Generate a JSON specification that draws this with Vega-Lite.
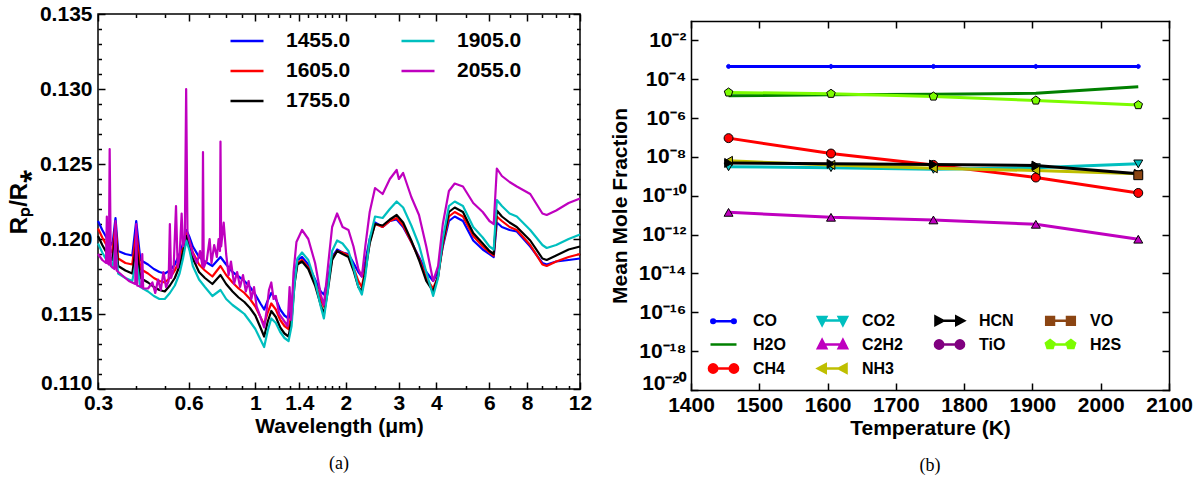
{
"$schema": "https://vega.github.io/schema/vega-lite/v6.json",
"background": "white",
"padding": {"left": 6, "top": 2, "right": 0, "bottom": 0},
"spacing": 16,
"resolve": {"scale": {"color": "independent"}, "legend": {"color": "independent"}},
"config": {
  "view": {"stroke": "black", "strokeWidth": 1.5},
  "font": "Liberation Sans",
  "axis": {"domain": false, "grid": false, "tickColor": "black", "tickWidth": 1.5, "tickSize": -7, "labelPadding": 13,
    "domainColor": "black", "domainWidth": 1.5, "domainCap": "square",
    "labelFont": "Liberation Sans", "labelFontWeight": "bold", "labelFontSize": 21, "labelColor": "black",
    "titleFont": "Liberation Sans", "titleFontWeight": "bold", "titleFontSize": 21, "titleColor": "black",
    "labelOverlap": false, "labelBound": false, "labelFlush": false},
  "legend": {"labelFont": "Liberation Sans", "labelFontWeight": "bold", "labelColor": "black", "padding": 0},
  "title": {"font": "Liberation Serif", "fontSize": 18, "fontWeight": "normal", "color": "black"}
},
"datasets": {
"spec": [
{"l":0.3,"s":"1455.0","v":0.1212},{"l":0.31,"s":"1455.0","v":0.1206},{"l":0.32,"s":"1455.0","v":0.1201},{"l":0.335,"s":"1455.0","v":0.1196},{"l":0.343,"s":"1455.0","v":0.1214},{"l":0.35,"s":"1455.0","v":0.1192},{"l":0.37,"s":"1455.0","v":0.119},{"l":0.39,"s":"1455.0","v":0.1189},{"l":0.402,"s":"1455.0","v":0.1212},{"l":0.415,"s":"1455.0","v":0.1186},{"l":0.44,"s":"1455.0","v":0.1183},{"l":0.46,"s":"1455.0","v":0.118},{"l":0.48,"s":"1455.0","v":0.1178},{"l":0.5,"s":"1455.0","v":0.1177},{"l":0.52,"s":"1455.0","v":0.1179},{"l":0.54,"s":"1455.0","v":0.1183},{"l":0.56,"s":"1455.0","v":0.119},{"l":0.575,"s":"1455.0","v":0.1197},{"l":0.59,"s":"1455.0","v":0.1206},{"l":0.605,"s":"1455.0","v":0.1201},{"l":0.62,"s":"1455.0","v":0.1195},{"l":0.65,"s":"1455.0","v":0.1188},{"l":0.68,"s":"1455.0","v":0.1185},{"l":0.72,"s":"1455.0","v":0.1182},{"l":0.766,"s":"1455.0","v":0.1188},{"l":0.8,"s":"1455.0","v":0.1183},{"l":0.84,"s":"1455.0","v":0.1178},{"l":0.88,"s":"1455.0","v":0.1175},{"l":0.92,"s":"1455.0","v":0.1172},{"l":0.96,"s":"1455.0","v":0.1168},{"l":1.0,"s":"1455.0","v":0.1163},{"l":1.04,"s":"1455.0","v":0.1157},{"l":1.07,"s":"1455.0","v":0.1153},{"l":1.1,"s":"1455.0","v":0.1159},{"l":1.13,"s":"1455.0","v":0.1164},{"l":1.17,"s":"1455.0","v":0.116},{"l":1.21,"s":"1455.0","v":0.1153},{"l":1.25,"s":"1455.0","v":0.1149},{"l":1.29,"s":"1455.0","v":0.1147},{"l":1.32,"s":"1455.0","v":0.1155},{"l":1.35,"s":"1455.0","v":0.1175},{"l":1.38,"s":"1455.0","v":0.1186},{"l":1.43,"s":"1455.0","v":0.1188},{"l":1.5,"s":"1455.0","v":0.1183},{"l":1.58,"s":"1455.0","v":0.1173},{"l":1.65,"s":"1455.0","v":0.1165},{"l":1.69,"s":"1455.0","v":0.1163},{"l":1.74,"s":"1455.0","v":0.1172},{"l":1.8,"s":"1455.0","v":0.1188},{"l":1.87,"s":"1455.0","v":0.1193},{"l":1.95,"s":"1455.0","v":0.1191},{"l":2.04,"s":"1455.0","v":0.119},{"l":2.12,"s":"1455.0","v":0.1184},{"l":2.2,"s":"1455.0","v":0.1178},{"l":2.26,"s":"1455.0","v":0.1175},{"l":2.32,"s":"1455.0","v":0.1185},{"l":2.4,"s":"1455.0","v":0.12},{"l":2.5,"s":"1455.0","v":0.1211},{"l":2.65,"s":"1455.0","v":0.1208},{"l":2.8,"s":"1455.0","v":0.1212},{"l":2.95,"s":"1455.0","v":0.1213},{"l":3.1,"s":"1455.0","v":0.1208},{"l":3.3,"s":"1455.0","v":0.1198},{"l":3.5,"s":"1455.0","v":0.1188},{"l":3.7,"s":"1455.0","v":0.1178},{"l":3.9,"s":"1455.0","v":0.1172},{"l":4.05,"s":"1455.0","v":0.1178},{"l":4.2,"s":"1455.0","v":0.1195},{"l":4.4,"s":"1455.0","v":0.1212},{"l":4.6,"s":"1455.0","v":0.1215},{"l":4.9,"s":"1455.0","v":0.1212},{"l":5.3,"s":"1455.0","v":0.1199},{"l":5.7,"s":"1455.0","v":0.1193},{"l":6.0,"s":"1455.0","v":0.119},{"l":6.2,"s":"1455.0","v":0.1188},{"l":6.35,"s":"1455.0","v":0.1211},{"l":6.6,"s":"1455.0","v":0.1208},{"l":7.0,"s":"1455.0","v":0.1206},{"l":7.4,"s":"1455.0","v":0.1205},{"l":8.2,"s":"1455.0","v":0.1195},{"l":9.0,"s":"1455.0","v":0.1184},{"l":9.3,"s":"1455.0","v":0.1183},{"l":10,"s":"1455.0","v":0.1185},{"l":11,"s":"1455.0","v":0.1186},{"l":12,"s":"1455.0","v":0.1187},
{"l":0.3,"s":"1605.0","v":0.1207},{"l":0.31,"s":"1605.0","v":0.1201},{"l":0.32,"s":"1605.0","v":0.1196},{"l":0.335,"s":"1605.0","v":0.1191},{"l":0.343,"s":"1605.0","v":0.121},{"l":0.35,"s":"1605.0","v":0.1187},{"l":0.37,"s":"1605.0","v":0.1184},{"l":0.39,"s":"1605.0","v":0.1183},{"l":0.402,"s":"1605.0","v":0.1205},{"l":0.415,"s":"1605.0","v":0.118},{"l":0.44,"s":"1605.0","v":0.1177},{"l":0.46,"s":"1605.0","v":0.1174},{"l":0.48,"s":"1605.0","v":0.1172},{"l":0.5,"s":"1605.0","v":0.1171},{"l":0.52,"s":"1605.0","v":0.1174},{"l":0.54,"s":"1605.0","v":0.1179},{"l":0.56,"s":"1605.0","v":0.1186},{"l":0.575,"s":"1605.0","v":0.1194},{"l":0.59,"s":"1605.0","v":0.1204},{"l":0.605,"s":"1605.0","v":0.1198},{"l":0.62,"s":"1605.0","v":0.1191},{"l":0.65,"s":"1605.0","v":0.1183},{"l":0.68,"s":"1605.0","v":0.1179},{"l":0.72,"s":"1605.0","v":0.1175},{"l":0.766,"s":"1605.0","v":0.1182},{"l":0.8,"s":"1605.0","v":0.1176},{"l":0.84,"s":"1605.0","v":0.1171},{"l":0.88,"s":"1605.0","v":0.1167},{"l":0.92,"s":"1605.0","v":0.1164},{"l":0.96,"s":"1605.0","v":0.116},{"l":1.0,"s":"1605.0","v":0.1155},{"l":1.04,"s":"1605.0","v":0.1148},{"l":1.07,"s":"1605.0","v":0.1143},{"l":1.1,"s":"1605.0","v":0.1151},{"l":1.13,"s":"1605.0","v":0.1157},{"l":1.17,"s":"1605.0","v":0.1153},{"l":1.21,"s":"1605.0","v":0.1146},{"l":1.25,"s":"1605.0","v":0.1142},{"l":1.29,"s":"1605.0","v":0.114},{"l":1.32,"s":"1605.0","v":0.115},{"l":1.35,"s":"1605.0","v":0.1172},{"l":1.38,"s":"1605.0","v":0.1184},{"l":1.43,"s":"1605.0","v":0.1186},{"l":1.5,"s":"1605.0","v":0.1181},{"l":1.58,"s":"1605.0","v":0.1171},{"l":1.65,"s":"1605.0","v":0.116},{"l":1.69,"s":"1605.0","v":0.1155},{"l":1.74,"s":"1605.0","v":0.1168},{"l":1.8,"s":"1605.0","v":0.1187},{"l":1.87,"s":"1605.0","v":0.1192},{"l":1.95,"s":"1605.0","v":0.1191},{"l":2.04,"s":"1605.0","v":0.1189},{"l":2.12,"s":"1605.0","v":0.1181},{"l":2.2,"s":"1605.0","v":0.1172},{"l":2.26,"s":"1605.0","v":0.1168},{"l":2.32,"s":"1605.0","v":0.118},{"l":2.4,"s":"1605.0","v":0.1198},{"l":2.5,"s":"1605.0","v":0.121},{"l":2.65,"s":"1605.0","v":0.1208},{"l":2.8,"s":"1605.0","v":0.1212},{"l":2.95,"s":"1605.0","v":0.1214},{"l":3.1,"s":"1605.0","v":0.1209},{"l":3.3,"s":"1605.0","v":0.1198},{"l":3.5,"s":"1605.0","v":0.1187},{"l":3.7,"s":"1605.0","v":0.1174},{"l":3.9,"s":"1605.0","v":0.1167},{"l":4.05,"s":"1605.0","v":0.1175},{"l":4.2,"s":"1605.0","v":0.1196},{"l":4.4,"s":"1605.0","v":0.1215},{"l":4.6,"s":"1605.0","v":0.1218},{"l":4.9,"s":"1605.0","v":0.1215},{"l":5.3,"s":"1605.0","v":0.1202},{"l":5.7,"s":"1605.0","v":0.1195},{"l":6.0,"s":"1605.0","v":0.1191},{"l":6.2,"s":"1605.0","v":0.1189},{"l":6.35,"s":"1605.0","v":0.1215},{"l":6.6,"s":"1605.0","v":0.1212},{"l":7.0,"s":"1605.0","v":0.1208},{"l":7.4,"s":"1605.0","v":0.1206},{"l":8.2,"s":"1605.0","v":0.1196},{"l":9.0,"s":"1605.0","v":0.1183},{"l":9.3,"s":"1605.0","v":0.1182},{"l":10,"s":"1605.0","v":0.1185},{"l":11,"s":"1605.0","v":0.1188},{"l":12,"s":"1605.0","v":0.119},
{"l":0.3,"s":"1755.0","v":0.1202},{"l":0.31,"s":"1755.0","v":0.1196},{"l":0.32,"s":"1755.0","v":0.1191},{"l":0.335,"s":"1755.0","v":0.1186},{"l":0.343,"s":"1755.0","v":0.1203},{"l":0.35,"s":"1755.0","v":0.1182},{"l":0.37,"s":"1755.0","v":0.1179},{"l":0.39,"s":"1755.0","v":0.1177},{"l":0.402,"s":"1755.0","v":0.1196},{"l":0.415,"s":"1755.0","v":0.1174},{"l":0.44,"s":"1755.0","v":0.1171},{"l":0.46,"s":"1755.0","v":0.1168},{"l":0.48,"s":"1755.0","v":0.1166},{"l":0.5,"s":"1755.0","v":0.1165},{"l":0.52,"s":"1755.0","v":0.1169},{"l":0.54,"s":"1755.0","v":0.1174},{"l":0.56,"s":"1755.0","v":0.1182},{"l":0.575,"s":"1755.0","v":0.1191},{"l":0.59,"s":"1755.0","v":0.1202},{"l":0.605,"s":"1755.0","v":0.1195},{"l":0.62,"s":"1755.0","v":0.1187},{"l":0.65,"s":"1755.0","v":0.1178},{"l":0.68,"s":"1755.0","v":0.1174},{"l":0.72,"s":"1755.0","v":0.117},{"l":0.766,"s":"1755.0","v":0.1176},{"l":0.8,"s":"1755.0","v":0.117},{"l":0.84,"s":"1755.0","v":0.1165},{"l":0.88,"s":"1755.0","v":0.1161},{"l":0.92,"s":"1755.0","v":0.1158},{"l":0.96,"s":"1755.0","v":0.1154},{"l":1.0,"s":"1755.0","v":0.1149},{"l":1.04,"s":"1755.0","v":0.1141},{"l":1.07,"s":"1755.0","v":0.1135},{"l":1.1,"s":"1755.0","v":0.1145},{"l":1.13,"s":"1755.0","v":0.1152},{"l":1.17,"s":"1755.0","v":0.1148},{"l":1.21,"s":"1755.0","v":0.1141},{"l":1.25,"s":"1755.0","v":0.1137},{"l":1.29,"s":"1755.0","v":0.1135},{"l":1.32,"s":"1755.0","v":0.1146},{"l":1.35,"s":"1755.0","v":0.117},{"l":1.38,"s":"1755.0","v":0.1183},{"l":1.43,"s":"1755.0","v":0.1185},{"l":1.5,"s":"1755.0","v":0.118},{"l":1.58,"s":"1755.0","v":0.1169},{"l":1.65,"s":"1755.0","v":0.1156},{"l":1.69,"s":"1755.0","v":0.115},{"l":1.74,"s":"1755.0","v":0.1165},{"l":1.8,"s":"1755.0","v":0.1186},{"l":1.87,"s":"1755.0","v":0.1192},{"l":1.95,"s":"1755.0","v":0.119},{"l":2.04,"s":"1755.0","v":0.1188},{"l":2.12,"s":"1755.0","v":0.1179},{"l":2.2,"s":"1755.0","v":0.1168},{"l":2.26,"s":"1755.0","v":0.1165},{"l":2.32,"s":"1755.0","v":0.1178},{"l":2.4,"s":"1755.0","v":0.1197},{"l":2.5,"s":"1755.0","v":0.121},{"l":2.65,"s":"1755.0","v":0.1209},{"l":2.8,"s":"1755.0","v":0.1213},{"l":2.95,"s":"1755.0","v":0.1216},{"l":3.1,"s":"1755.0","v":0.1211},{"l":3.3,"s":"1755.0","v":0.1199},{"l":3.5,"s":"1755.0","v":0.1186},{"l":3.7,"s":"1755.0","v":0.1172},{"l":3.9,"s":"1755.0","v":0.1165},{"l":4.05,"s":"1755.0","v":0.1175},{"l":4.2,"s":"1755.0","v":0.1198},{"l":4.4,"s":"1755.0","v":0.1218},{"l":4.6,"s":"1755.0","v":0.1221},{"l":4.9,"s":"1755.0","v":0.1218},{"l":5.3,"s":"1755.0","v":0.1204},{"l":5.7,"s":"1755.0","v":0.1197},{"l":6.0,"s":"1755.0","v":0.1192},{"l":6.2,"s":"1755.0","v":0.119},{"l":6.35,"s":"1755.0","v":0.1219},{"l":6.6,"s":"1755.0","v":0.1215},{"l":7.0,"s":"1755.0","v":0.1211},{"l":7.4,"s":"1755.0","v":0.1208},{"l":8.2,"s":"1755.0","v":0.1199},{"l":9.0,"s":"1755.0","v":0.1187},{"l":9.3,"s":"1755.0","v":0.1186},{"l":10,"s":"1755.0","v":0.1189},{"l":11,"s":"1755.0","v":0.1193},{"l":12,"s":"1755.0","v":0.1195},
{"l":0.3,"s":"1905.0","v":0.1197},{"l":0.31,"s":"1905.0","v":0.1191},{"l":0.32,"s":"1905.0","v":0.1186},{"l":0.335,"s":"1905.0","v":0.1181},{"l":0.343,"s":"1905.0","v":0.1195},{"l":0.35,"s":"1905.0","v":0.1177},{"l":0.37,"s":"1905.0","v":0.1174},{"l":0.39,"s":"1905.0","v":0.1172},{"l":0.402,"s":"1905.0","v":0.1186},{"l":0.415,"s":"1905.0","v":0.1168},{"l":0.44,"s":"1905.0","v":0.1165},{"l":0.46,"s":"1905.0","v":0.1162},{"l":0.48,"s":"1905.0","v":0.116},{"l":0.5,"s":"1905.0","v":0.116},{"l":0.52,"s":"1905.0","v":0.1164},{"l":0.54,"s":"1905.0","v":0.1169},{"l":0.56,"s":"1905.0","v":0.1177},{"l":0.575,"s":"1905.0","v":0.1187},{"l":0.59,"s":"1905.0","v":0.1199},{"l":0.605,"s":"1905.0","v":0.1192},{"l":0.62,"s":"1905.0","v":0.1182},{"l":0.65,"s":"1905.0","v":0.1173},{"l":0.68,"s":"1905.0","v":0.1168},{"l":0.72,"s":"1905.0","v":0.1162},{"l":0.766,"s":"1905.0","v":0.1166},{"l":0.8,"s":"1905.0","v":0.116},{"l":0.84,"s":"1905.0","v":0.1156},{"l":0.88,"s":"1905.0","v":0.1153},{"l":0.92,"s":"1905.0","v":0.115},{"l":0.96,"s":"1905.0","v":0.1145},{"l":1.0,"s":"1905.0","v":0.114},{"l":1.04,"s":"1905.0","v":0.1133},{"l":1.07,"s":"1905.0","v":0.1128},{"l":1.1,"s":"1905.0","v":0.1139},{"l":1.13,"s":"1905.0","v":0.1147},{"l":1.17,"s":"1905.0","v":0.1144},{"l":1.21,"s":"1905.0","v":0.1138},{"l":1.25,"s":"1905.0","v":0.1134},{"l":1.29,"s":"1905.0","v":0.1132},{"l":1.32,"s":"1905.0","v":0.1142},{"l":1.35,"s":"1905.0","v":0.117},{"l":1.38,"s":"1905.0","v":0.1187},{"l":1.43,"s":"1905.0","v":0.1191},{"l":1.5,"s":"1905.0","v":0.1186},{"l":1.58,"s":"1905.0","v":0.1172},{"l":1.65,"s":"1905.0","v":0.1155},{"l":1.69,"s":"1905.0","v":0.1147},{"l":1.74,"s":"1905.0","v":0.1165},{"l":1.8,"s":"1905.0","v":0.1192},{"l":1.87,"s":"1905.0","v":0.1199},{"l":1.95,"s":"1905.0","v":0.1197},{"l":2.04,"s":"1905.0","v":0.1192},{"l":2.12,"s":"1905.0","v":0.1181},{"l":2.2,"s":"1905.0","v":0.1168},{"l":2.26,"s":"1905.0","v":0.1163},{"l":2.32,"s":"1905.0","v":0.1175},{"l":2.4,"s":"1905.0","v":0.12},{"l":2.5,"s":"1905.0","v":0.1215},{"l":2.65,"s":"1905.0","v":0.1214},{"l":2.8,"s":"1905.0","v":0.122},{"l":2.95,"s":"1905.0","v":0.1225},{"l":3.1,"s":"1905.0","v":0.1221},{"l":3.3,"s":"1905.0","v":0.1209},{"l":3.5,"s":"1905.0","v":0.1196},{"l":3.7,"s":"1905.0","v":0.1178},{"l":3.9,"s":"1905.0","v":0.1162},{"l":4.05,"s":"1905.0","v":0.1174},{"l":4.2,"s":"1905.0","v":0.12},{"l":4.4,"s":"1905.0","v":0.1222},{"l":4.6,"s":"1905.0","v":0.1225},{"l":4.9,"s":"1905.0","v":0.1222},{"l":5.3,"s":"1905.0","v":0.1208},{"l":5.7,"s":"1905.0","v":0.1201},{"l":6.0,"s":"1905.0","v":0.1195},{"l":6.2,"s":"1905.0","v":0.1193},{"l":6.35,"s":"1905.0","v":0.1226},{"l":6.6,"s":"1905.0","v":0.1222},{"l":7.0,"s":"1905.0","v":0.1217},{"l":7.4,"s":"1905.0","v":0.1215},{"l":8.2,"s":"1905.0","v":0.1206},{"l":9.0,"s":"1905.0","v":0.1196},{"l":9.3,"s":"1905.0","v":0.1194},{"l":10,"s":"1905.0","v":0.1196},{"l":11,"s":"1905.0","v":0.12},{"l":12,"s":"1905.0","v":0.1203},
{"l":0.3,"s":"2055.0","v":0.119},{"l":0.31,"s":"2055.0","v":0.1186},{"l":0.319,"s":"2055.0","v":0.1184},{"l":0.321,"s":"2055.0","v":0.1215},{"l":0.323,"s":"2055.0","v":0.1184},{"l":0.326,"s":"2055.0","v":0.1183},{"l":0.328,"s":"2055.0","v":0.126},{"l":0.331,"s":"2055.0","v":0.1182},{"l":0.34,"s":"2055.0","v":0.118},{"l":0.343,"s":"2055.0","v":0.1212},{"l":0.346,"s":"2055.0","v":0.1179},{"l":0.36,"s":"2055.0","v":0.1176},{"l":0.38,"s":"2055.0","v":0.1172},{"l":0.399,"s":"2055.0","v":0.117},{"l":0.402,"s":"2055.0","v":0.121},{"l":0.405,"s":"2055.0","v":0.1169},{"l":0.418,"s":"2055.0","v":0.1168},{"l":0.421,"s":"2055.0","v":0.119},{"l":0.424,"s":"2055.0","v":0.1167},{"l":0.44,"s":"2055.0","v":0.1167},{"l":0.455,"s":"2055.0","v":0.1171},{"l":0.465,"s":"2055.0","v":0.1164},{"l":0.475,"s":"2055.0","v":0.1173},{"l":0.485,"s":"2055.0","v":0.1166},{"l":0.495,"s":"2055.0","v":0.1178},{"l":0.505,"s":"2055.0","v":0.1168},{"l":0.515,"s":"2055.0","v":0.1172},{"l":0.52,"s":"2055.0","v":0.121},{"l":0.525,"s":"2055.0","v":0.1174},{"l":0.535,"s":"2055.0","v":0.118},{"l":0.545,"s":"2055.0","v":0.1222},{"l":0.552,"s":"2055.0","v":0.1181},{"l":0.56,"s":"2055.0","v":0.1188},{"l":0.569,"s":"2055.0","v":0.1217},{"l":0.575,"s":"2055.0","v":0.1195},{"l":0.583,"s":"2055.0","v":0.12},{"l":0.589,"s":"2055.0","v":0.13},{"l":0.595,"s":"2055.0","v":0.1204},{"l":0.605,"s":"2055.0","v":0.1198},{"l":0.62,"s":"2055.0","v":0.119},{"l":0.64,"s":"2055.0","v":0.1184},{"l":0.655,"s":"2055.0","v":0.1192},{"l":0.667,"s":"2055.0","v":0.1182},{"l":0.67,"s":"2055.0","v":0.1258},{"l":0.674,"s":"2055.0","v":0.1181},{"l":0.69,"s":"2055.0","v":0.1186},{"l":0.705,"s":"2055.0","v":0.12},{"l":0.715,"s":"2055.0","v":0.1184},{"l":0.73,"s":"2055.0","v":0.1196},{"l":0.745,"s":"2055.0","v":0.1188},{"l":0.755,"s":"2055.0","v":0.12},{"l":0.763,"s":"2055.0","v":0.1192},{"l":0.766,"s":"2055.0","v":0.1265},{"l":0.77,"s":"2055.0","v":0.1195},{"l":0.785,"s":"2055.0","v":0.1211},{"l":0.8,"s":"2055.0","v":0.119},{"l":0.815,"s":"2055.0","v":0.1176},{"l":0.83,"s":"2055.0","v":0.1185},{"l":0.85,"s":"2055.0","v":0.117},{"l":0.87,"s":"2055.0","v":0.1178},{"l":0.89,"s":"2055.0","v":0.1168},{"l":0.91,"s":"2055.0","v":0.1176},{"l":0.93,"s":"2055.0","v":0.1165},{"l":0.95,"s":"2055.0","v":0.1172},{"l":0.97,"s":"2055.0","v":0.116},{"l":0.99,"s":"2055.0","v":0.1168},{"l":1.01,"s":"2055.0","v":0.1155},{"l":1.04,"s":"2055.0","v":0.1148},{"l":1.07,"s":"2055.0","v":0.1141},{"l":1.09,"s":"2055.0","v":0.1152},{"l":1.11,"s":"2055.0","v":0.1166},{"l":1.13,"s":"2055.0","v":0.1171},{"l":1.15,"s":"2055.0","v":0.116},{"l":1.17,"s":"2055.0","v":0.1162},{"l":1.2,"s":"2055.0","v":0.115},{"l":1.24,"s":"2055.0","v":0.1146},{"l":1.28,"s":"2055.0","v":0.1142},{"l":1.3,"s":"2055.0","v":0.1168},{"l":1.315,"s":"2055.0","v":0.1146},{"l":1.34,"s":"2055.0","v":0.1178},{"l":1.37,"s":"2055.0","v":0.1198},{"l":1.43,"s":"2055.0","v":0.1206},{"l":1.5,"s":"2055.0","v":0.12},{"l":1.58,"s":"2055.0","v":0.1184},{"l":1.65,"s":"2055.0","v":0.1163},{"l":1.69,"s":"2055.0","v":0.1156},{"l":1.74,"s":"2055.0","v":0.118},{"l":1.8,"s":"2055.0","v":0.1208},{"l":1.87,"s":"2055.0","v":0.1217},{"l":1.95,"s":"2055.0","v":0.1208},{"l":2.04,"s":"2055.0","v":0.1206},{"l":2.12,"s":"2055.0","v":0.1195},{"l":2.2,"s":"2055.0","v":0.118},{"l":2.26,"s":"2055.0","v":0.1175},{"l":2.32,"s":"2055.0","v":0.1195},{"l":2.4,"s":"2055.0","v":0.1218},{"l":2.5,"s":"2055.0","v":0.1234},{"l":2.65,"s":"2055.0","v":0.123},{"l":2.8,"s":"2055.0","v":0.124},{"l":2.95,"s":"2055.0","v":0.1246},{"l":3.0,"s":"2055.0","v":0.124},{"l":3.1,"s":"2055.0","v":0.1244},{"l":3.3,"s":"2055.0","v":0.1228},{"l":3.5,"s":"2055.0","v":0.1216},{"l":3.7,"s":"2055.0","v":0.1195},{"l":3.9,"s":"2055.0","v":0.1172},{"l":4.05,"s":"2055.0","v":0.1182},{"l":4.2,"s":"2055.0","v":0.121},{"l":4.4,"s":"2055.0","v":0.1232},{"l":4.6,"s":"2055.0","v":0.1237},{"l":4.9,"s":"2055.0","v":0.1235},{"l":5.3,"s":"2055.0","v":0.1224},{"l":5.7,"s":"2055.0","v":0.1218},{"l":6.0,"s":"2055.0","v":0.1212},{"l":6.2,"s":"2055.0","v":0.121},{"l":6.35,"s":"2055.0","v":0.1247},{"l":6.6,"s":"2055.0","v":0.1242},{"l":7.0,"s":"2055.0","v":0.1238},{"l":7.4,"s":"2055.0","v":0.1235},{"l":8.2,"s":"2055.0","v":0.123},{"l":9.0,"s":"2055.0","v":0.1217},{"l":9.3,"s":"2055.0","v":0.1216},{"l":10,"s":"2055.0","v":0.1219},{"l":11,"s":"2055.0","v":0.1224},{"l":12,"s":"2055.0","v":0.1227}
],
"mol": [
{"sp":"CO","T":1455,"v":4.6e-4},{"sp":"CO","T":1605,"v":4.6e-4},{"sp":"CO","T":1755,"v":4.6e-4},{"sp":"CO","T":1905,"v":4.6e-4},{"sp":"CO","T":2055,"v":4.6e-4},
{"sp":"H2O","T":1455,"v":1.4e-5},{"sp":"H2O","T":1605,"v":1.6e-5},{"sp":"H2O","T":1755,"v":1.7e-5},{"sp":"H2O","T":1905,"v":1.9e-5},{"sp":"H2O","T":2055,"v":4.1e-5},
{"sp":"CH4","T":1455,"v":9.3e-8},{"sp":"CH4","T":1605,"v":1.5e-8},{"sp":"CH4","T":1755,"v":3.9e-9},{"sp":"CH4","T":1905,"v":8.7e-10},{"sp":"CH4","T":2055,"v":1.4e-10},
{"sp":"CO2","T":1455,"v":3.1e-9},{"sp":"CO2","T":1605,"v":2.8e-9},{"sp":"CO2","T":1755,"v":2.3e-9},{"sp":"CO2","T":1905,"v":2.8e-9},{"sp":"CO2","T":2055,"v":4.4e-9},
{"sp":"C2H2","T":1455,"v":1.4e-11},{"sp":"C2H2","T":1605,"v":7.8e-12},{"sp":"C2H2","T":1755,"v":5.7e-12},{"sp":"C2H2","T":1905,"v":3.4e-12},{"sp":"C2H2","T":2055,"v":5.8e-13},
{"sp":"NH3","T":1455,"v":6.3e-9},{"sp":"NH3","T":1605,"v":3.9e-9},{"sp":"NH3","T":1755,"v":2.6e-9},{"sp":"NH3","T":1905,"v":2.0e-9},{"sp":"NH3","T":2055,"v":1.35e-9},
{"sp":"HCN","T":1455,"v":4.9e-9},{"sp":"HCN","T":1605,"v":4.4e-9},{"sp":"HCN","T":1755,"v":4.1e-9},{"sp":"HCN","T":1905,"v":3.6e-9},{"sp":"HCN","T":2055,"v":1.35e-9},
{"sp":"VO","T":2055,"v":1.15e-9},
{"sp":"H2S","T":1455,"v":2.1e-5},{"sp":"H2S","T":1605,"v":1.8e-5},{"sp":"H2S","T":1755,"v":1.3e-5},{"sp":"H2S","T":1905,"v":8.1e-6},{"sp":"H2S","T":2055,"v":4.7e-6}
]
},
"hconcat": [
{
  "width": 482, "height": 375,
  "title": {"text": "(a)", "orient": "bottom", "anchor": "middle", "offset": 19},
  "data": {"name": "spec"},
  "layer": [
    {
      "mark": {"type": "line", "strokeWidth": 2.2, "strokeJoin": "round"},
      "encoding": {
        "x": {"field": "l", "type": "quantitative", "scale": {"type": "log", "domain": [0.3, 12], "nice": false},
          "axis": {"orient": "bottom", "values": [0.3, 0.6, 1, 1.4, 2, 3, 4, 6, 8, 12], "labelPadding": 10, "labelExpr": "format(datum.value, '~g')", "title": "Wavelength (μm)", "titlePadding": 2}},
        "y": {"field": "v", "type": "quantitative", "scale": {"domain": [0.11, 0.135], "nice": false, "zero": false},
          "axis": {"orient": "left", "values": [0.115, 0.12, 0.125, 0.13, 0.135], "format": ".3f", "title": "Rₚ/R⁎", "titleFontSize": 24, "titlePadding": 8}},
        "color": {"field": "s", "type": "nominal",
          "scale": {"domain": ["1455.0", "1605.0", "1755.0", "1905.0", "2055.0"], "range": ["#0000ff", "#ff0000", "#000000", "#00bfbf", "#bf00bf"]},
          "legend": {"orient": "none", "legendX": 131, "legendY": 9, "columns": 2, "title": null, "symbolType": "stroke", "symbolSize": 1089, "symbolStrokeWidth": 2.5, "labelFontSize": 21, "labelOffset": 21, "columnPadding": 45, "rowPadding": 2}}
      }
    },
    {
      "transform": [{"filter": "false"}],
      "mark": "point",
      "encoding": {
        "x": {"field": "l", "type": "quantitative", "axis": {"orient": "top", "values": [0.3, 0.6, 1, 1.4, 2, 3, 4, 6, 8, 12], "labels": false, "title": null}},
        "y": {"field": "v", "type": "quantitative", "axis": {"orient": "right", "values": [0.11, 0.115, 0.12, 0.125, 0.13, 0.135], "labels": false, "title": null}}
      }
    },
    {
      "transform": [{"filter": "false"}],
      "mark": "point",
      "encoding": {
        "x": {"field": "l", "type": "quantitative", "axis": {"orient": "bottom", "values": [0.4, 0.5, 0.7, 0.8, 0.9, 1.1, 1.2, 1.3, 1.5, 1.6, 1.7, 1.8, 1.9, 2.5, 3.5, 5, 7, 9, 10, 11], "labels": false, "title": null, "tickSize": -3.5}},
        "y": {"field": "v", "type": "quantitative", "axis": {"orient": "left", "values": [0.111, 0.112, 0.113, 0.114, 0.116, 0.117, 0.118, 0.119, 0.121, 0.122, 0.123, 0.124, 0.126, 0.127, 0.128, 0.129, 0.131, 0.132, 0.133, 0.134], "labels": false, "title": null, "tickSize": -3.5}}
      }
    },
    {
      "transform": [{"filter": "false"}],
      "mark": "point",
      "encoding": {
        "x": {"field": "l", "type": "quantitative", "axis": {"orient": "top", "values": [0.4, 0.5, 0.7, 0.8, 0.9, 1.1, 1.2, 1.3, 1.5, 1.6, 1.7, 1.8, 1.9, 2.5, 3.5, 5, 7, 9, 10, 11], "labels": false, "title": null, "tickSize": -3.5}},
        "y": {"field": "v", "type": "quantitative", "axis": {"orient": "right", "values": [0.111, 0.112, 0.113, 0.114, 0.116, 0.117, 0.118, 0.119, 0.121, 0.122, 0.123, 0.124, 0.126, 0.127, 0.128, 0.129, 0.131, 0.132, 0.133, 0.134], "labels": false, "title": null, "tickSize": -3.5}}
      }
    },
    {
      "transform": [{"filter": "false"}],
      "mark": "point",
      "encoding": {
        "x": {"field": "l", "type": "quantitative", "axis": null},
        "y": {"field": "v", "type": "quantitative", "axis": {"orient": "left", "values": [0.11], "format": ".3f", "labelFlush": true, "labelFlushOffset": 4, "title": null}}
      }
    }
  ],
  "resolve": {"axis": {"x": "independent", "y": "independent"}}
},
{
  "width": 478, "height": 376,
  "view": {"stroke": null},
  "title": {"text": "(b)", "orient": "bottom", "anchor": "middle", "offset": 19},
  "data": {"name": "mol"},
  "layer": [
    {
      "mark": {"type": "line", "strokeWidth": 3},
      "encoding": {
        "x": {"field": "T", "type": "quantitative", "scale": {"domain": [1400, 2100], "nice": false, "zero": false},
          "axis": {"orient": "bottom", "domain": true, "values": [1400, 1500, 1600, 1700, 1800, 1900, 2000, 2100], "format": "d", "labelPadding": 11, "title": "Temperature (K)", "titlePadding": 2}},
        "y": {"field": "v", "type": "quantitative", "scale": {"type": "log", "domain": [1e-20, 0.1], "range": [376, 7], "nice": false},
          "axis": {"orient": "left", "domain": true, "values": [1e-20, 1e-18, 1e-16, 1e-14, 1e-12, 1e-10, 1e-8, 1e-6, 1e-4, 1e-2], "labelPadding": 12, "labelFlush": true, "labelFlushOffset": 3, "title": "Mean Mole Fraction", "titlePadding": 8,
            "labelExpr": "'10' + (datum.value < 1e-19 ? '⁻²⁰' : datum.value < 1e-17 ? '⁻¹⁸' : datum.value < 1e-15 ? '⁻¹⁶' : datum.value < 1e-13 ? '⁻¹⁴' : datum.value < 1e-11 ? '⁻¹²' : datum.value < 1e-9 ? '⁻¹⁰' : datum.value < 1e-7 ? '⁻⁸' : datum.value < 1e-5 ? '⁻⁶' : datum.value < 1e-3 ? '⁻⁴' : '⁻²')"}},
        "color": {"field": "sp", "type": "nominal",
          "scale": {"domain": ["CO", "H2O", "H2S", "CO2", "C2H2", "CH4", "HCN", "TiO", "NH3", "VO"], "range": ["#0000ff", "#008000", "#7cfc00", "#00bfbf", "#bf00bf", "#ff0000", "#000000", "#800080", "#bfbf00", "#8b4513"]},
          "legend": {"orient": "none", "legendX": 18, "legendY": 292, "columns": 4, "title": null, "symbolSize": 676, "symbolStrokeWidth": 2.5, "labelFontSize": 16, "labelOffset": 15, "columnPadding": 26, "rowPadding": 0,
            "symbolType": {"expr": "datum.value=='CO'?'M-1,0L1,0M-0.94,0A0.14,0.14,0,1,0,-0.66,0A0.14,0.14,0,1,0,-0.94,0ZM0.66,0A0.14,0.14,0,1,0,0.94,0A0.14,0.14,0,1,0,0.66,0Z':datum.value=='H2O'?'M-1,0L1,0':datum.value=='CO2'?'M-1,0L1,0M-1.12,-0.28L-0.48,-0.28L-0.8,0.34ZM0.48,-0.28L1.12,-0.28L0.8,0.34Z':datum.value=='C2H2'?'M-1,0L1,0M-1.12,0.28L-0.48,0.28L-0.8,-0.34ZM0.48,0.28L1.12,0.28L0.8,-0.34Z':datum.value=='NH3'?'M-1,0L1,0M-0.52,-0.32L-0.52,0.32L-1.12,0ZM1.08,-0.32L1.08,0.32L0.48,0Z':datum.value=='HCN'?'M-1,0L1,0M-1.08,-0.32L-1.08,0.32L-0.48,0ZM0.52,-0.32L0.52,0.32L1.12,0Z':datum.value=='VO'?'M-1,0L1,0M-1.1,-0.3H-0.5V0.3H-1.1ZM0.5,-0.3H1.1V0.3H0.5Z':datum.value=='H2S'?'M-1,0L1,0M-0.8,-0.34L-0.477,-0.105L-0.6,0.275L-1,0.275L-1.123,-0.105ZM0.8,-0.34L1.123,-0.105L1,0.275L0.6,0.275L0.477,-0.105Z':'M-1,0L1,0M-1.12,0A0.32,0.32,0,1,0,-0.48,0A0.32,0.32,0,1,0,-1.12,0ZM0.48,0A0.32,0.32,0,1,0,1.12,0A0.32,0.32,0,1,0,0.48,0Z'"},
            "symbolFillColor": {"expr": "datum.value=='CO'?'#0000ff':datum.value=='CO2'?'#00bfbf':datum.value=='HCN'?'#000000':datum.value=='VO'?'#8b4513':datum.value=='H2O'?'#008000':datum.value=='C2H2'?'#bf00bf':datum.value=='TiO'?'#800080':datum.value=='H2S'?'#7cfc00':datum.value=='CH4'?'#ff0000':'#bfbf00'"}}}
      }
    },
    {
      "transform": [{"filter": "datum.sp != 'H2O'"}],
      "mark": {"type": "point", "filled": true, "size": 80, "strokeWidth": 1, "opacity": 1},
      "encoding": {
        "x": {"field": "T", "type": "quantitative", "axis": {"orient": "top", "domain": true, "offset": -7, "values": [1400, 1500, 1600, 1700, 1800, 1900, 2000, 2100], "labels": false, "title": null}},
        "y": {"field": "v", "type": "quantitative", "axis": {"orient": "right", "domain": true, "values": [1e-20, 1e-18, 1e-16, 1e-14, 1e-12, 1e-10, 1e-8, 1e-6, 1e-4, 1e-2], "labels": false, "title": null}},
        "fill": {"field": "sp", "type": "nominal", "legend": null,
          "scale": {"domain": ["CO", "CO2", "HCN", "VO", "H2O", "C2H2", "TiO", "H2S", "CH4", "NH3"], "range": ["#0000ff", "#00bfbf", "#000000", "#8b4513", "#008000", "#bf00bf", "#800080", "#7cfc00", "#ff0000", "#bfbf00"]}},
        "stroke": {"field": "sp", "type": "nominal", "legend": null,
          "scale": {"domain": ["CO", "CO2", "HCN", "VO", "H2O", "C2H2", "TiO", "H2S", "CH4", "NH3"], "range": ["#0000ff", "#000000", "#000000", "#000000", "#000000", "#000000", "#000000", "#000000", "#000000", "#000000"]}},
        "shape": {"field": "sp", "type": "nominal", "legend": null,
          "scale": {"domain": ["CO", "CO2", "HCN", "VO", "H2O", "C2H2", "TiO", "H2S", "CH4", "NH3"], "range": ["M-0.45,0A0.45,0.45,0,1,0,0.45,0A0.45,0.45,0,1,0,-0.45,0Z", "triangle-down", "triangle-right", "square", "circle", "triangle-up", "circle", "M0,-1L0.951,-0.309L0.588,0.809L-0.588,0.809L-0.951,-0.309Z", "circle", "triangle-left"]}}
      }
    }
  ],
  "resolve": {"axis": {"x": "independent", "y": "independent"}}
}
]
}
